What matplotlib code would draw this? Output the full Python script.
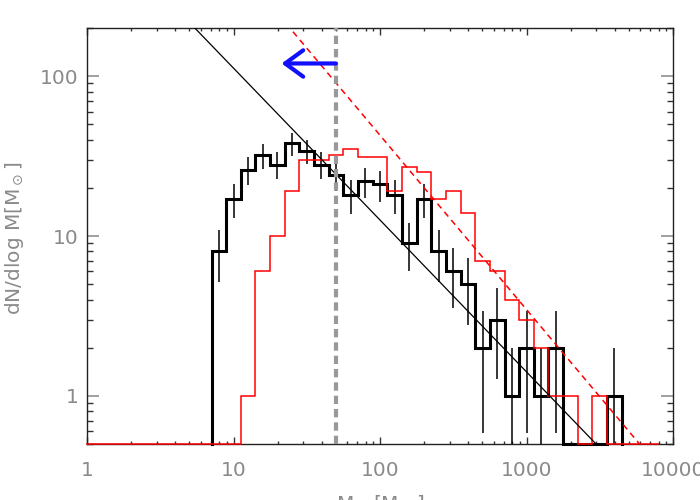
import numpy as np
import matplotlib.pyplot as plt
from matplotlib.ticker import LogLocator, FuncFormatter, NullFormatter

plt.rcParams['font.family'] = 'DejaVu Sans'
plt.rcParams['mathtext.fontset'] = 'dejavusans'

# Colours
C_TEXT = "#8a8a8a"
C_CUT = "#999999"
C_RED = "#ff0000"
C_ARROW = "#1010ff"

# Histograms, 0.1 dex bins in log10(M); first bin starts at *_start
DEX = 0.1
black_start = 0.85
black_counts = [8, 17, 26, 32, 28, 38, 34, 28, 24, 18, 22, 21, 18, 9,
                17, 8, 6, 5, 2, 3, 1, 2, 1, 2, 0, 0, 0, 1]
red_start = 1.05
red_counts = [1, 6, 10, 19, 30, 30, 32, 35, 31, 31, 19, 27, 25, 17,
              19, 14, 7, 6, 4, 3, 2, 1, 1, 0, 1]
red_span = (1.0, 10 ** 3.9)   # red curve runs along zero over this range

# Power-law fits: (norm, slope) for dN/dlogM = norm * M**slope
black_fit = (10 ** 3.0, -0.95)
red_fit = (10 ** 3.81, -1.09)

# Mass cut and arrow
cut_mass = 50
arrow_tip = 21.3
arrow_y = 120

XLIM = (1, 1e4)
YLIM = (0.5, 200)


def step_xy(start, counts, floor):
    edges = 10 ** (start + DEX * np.arange(len(counts) + 1))
    vals = np.where(np.array(counts) > 0, counts, floor).astype(float)
    x = np.repeat(edges, 2)
    y = np.concatenate([[floor], np.repeat(vals, 2), [floor]])
    return x, y


fig = plt.figure(figsize=(7, 5), dpi=100, facecolor='white')
ax = fig.add_axes([87 / 700, 1 - 444 / 500, 586 / 700, 416 / 500])
ax.set_xscale('log')
ax.set_yscale('log')
ax.set_xlim(*XLIM)
ax.set_ylim(*YLIM)

# black histogram + Poisson errors
bx, by = step_xy(black_start, black_counts, YLIM[0])
ax.plot(bx, by, color='black', lw=2.2, clip_on=False, zorder=3,
        solid_joinstyle='miter')
bc = np.array(black_counts, dtype=float)
centers = 10 ** (black_start + DEX * (np.arange(len(bc)) + 0.5))
m = bc > 0
ax.errorbar(centers[m], bc[m], yerr=np.sqrt(bc[m]), fmt='none',
            ecolor='black', elinewidth=1.1, capsize=0, zorder=3)

# red histogram
rx, ry = step_xy(red_start, red_counts, YLIM[0])
rx = np.concatenate([[red_span[0]], rx, [red_span[1]]])
ry = np.concatenate([[YLIM[0]], ry, [YLIM[0]]])
ax.plot(rx, ry, color=C_RED, lw=1.1, clip_on=False, zorder=4,
        solid_joinstyle='miter')

# power-law fits
mgrid = np.logspace(0, 4, 60)
ax.plot(mgrid, black_fit[0] * mgrid ** black_fit[1], color='black', lw=0.9, zorder=5)
ax.plot(mgrid, red_fit[0] * mgrid ** red_fit[1], color=C_RED, lw=1.1,
        dashes=(4, 3), zorder=5)

# mass cut and arrow
ax.axvline(cut_mass, color=C_CUT, lw=3, dashes=(2.0, 1.2), zorder=6)
ax.annotate("", xy=(arrow_tip, arrow_y), xytext=(cut_mass, arrow_y),
            arrowprops=dict(arrowstyle="->,head_length=1.3,head_width=0.95",
                            color=C_ARROW, lw=3, mutation_scale=10,
                            shrinkA=0, shrinkB=0), zorder=7)

# axes styling
for s in ax.spines.values():
    s.set_color('#222222')
    s.set_linewidth(1)

fmt = FuncFormatter(lambda v, p: f"{v:g}")
ax.xaxis.set_major_locator(LogLocator(base=10, numticks=10))
ax.xaxis.set_minor_locator(LogLocator(base=10, subs=np.arange(2, 10), numticks=20))
ax.xaxis.set_major_formatter(fmt)
ax.xaxis.set_minor_formatter(NullFormatter())
ax.yaxis.set_major_locator(LogLocator(base=10, numticks=10))
ax.yaxis.set_minor_locator(LogLocator(base=10, subs=np.arange(2, 10), numticks=20))
ax.yaxis.set_major_formatter(fmt)
ax.yaxis.set_minor_formatter(NullFormatter())

ax.tick_params(axis='both', which='both', direction='in', top=True, right=True,
               labelsize=14.5, labelcolor=C_TEXT)
ax.tick_params(axis='x', which='major', length=5, width=1, color='#333333', pad=12)
ax.tick_params(axis='x', which='minor', length=2.5, width=1, color='#333333')
ax.tick_params(axis='y', which='major', length=8.6, width=1.3, color=C_CUT, pad=6)
ax.tick_params(axis='y', which='minor', length=4.3, width=1, color='#333333')

fig.text(15 / 700, 1 - 238 / 500, r"dN/dlog M[M$_\odot$]", rotation=90,
         ha='center', va='center', fontsize=14.5, color=C_TEXT)
fig.text(380 / 700, 1 - 493 / 500, r"M$_*$ [M$_\odot$]",
         ha='center', va='top', fontsize=14.5, color=C_TEXT)

fig.savefig('out.png', dpi=100)
